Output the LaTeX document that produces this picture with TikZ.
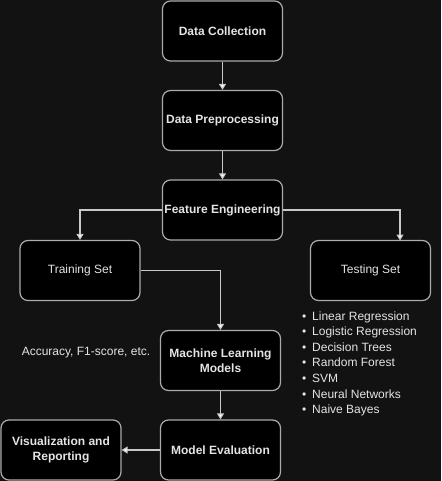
\documentclass[tikz,border=0pt]{standalone}
\usepackage{fontspec}
\setmainfont{Liberation Sans}
\usetikzlibrary{arrows.meta}
\definecolor{bg}{HTML}{121212}
\definecolor{edge}{HTML}{ABABAB}
\definecolor{wire}{HTML}{C8C8C8}
\definecolor{txt}{HTML}{E4E4E4}
\begin{document}
\begin{tikzpicture}[x=1pt,y=-1pt,
 box/.style={draw=edge, fill=black, line width=1.2pt, rounded corners=8pt,
   minimum width=120pt, minimum height=60pt, inner sep=0pt, text=txt,
   font=\fontsize{12}{15}\selectfont\bfseries, align=center},
 plainbox/.style={box, font=\fontsize{12}{15}\selectfont},
 conn/.style={draw=wire, line width=1.1pt, -{Triangle[length=6pt,width=7pt,fill=white]}},
 lbl/.style={text=txt, font=\fontsize{12}{15}\selectfont, inner sep=0pt}]
\fill[bg] (0,0) rectangle (441,481);
\useasboundingbox (0,0) rectangle (441,481);
\node[box] (dc) at (222.5,31) {Data Collection};
\node[box] (dp) at (222.5,120.5) {Data Preprocessing};
\node[box] (fe) at (222.5,210) {Feature Engineering};
\node[plainbox] (tr) at (80,270.5) {Training Set};
\node[plainbox] (ts) at (370.5,270.5) {Testing Set};
\node[box] (ml) at (220.5,360.5) {Machine Learning\\Models};
\node[box] (me) at (220.5,450) {Model Evaluation};
\node[box] (vr) at (61,450) {Visualization and\\Reporting};
\coordinate (tsin) at (400,240.5);
\draw[conn] (dc) -- (dp);
\draw[conn] (dp) -- (fe);
\draw[conn] (fe.west) -| (tr.north);
\draw[conn] (fe.east) -| (tsin);
\draw[conn] (tr.east) -| (ml.north);
\draw[conn] (ml) -- (me);
\draw[conn] (me.west) -- (vr.east);
\node[lbl] (acc) at (86,353) {Accuracy, F1-score, etc.};
\foreach \t [count=\i] in {Linear Regression, Logistic Regression, Decision Trees, Random Forest, SVM, Neural Networks, Naive Bayes}
  \node[lbl, anchor=base west] (b\i) at (312,{320.3+15.55*(\i-1)}) {\llap{•\hspace{6pt}}\t};
\end{tikzpicture}
\end{document}
